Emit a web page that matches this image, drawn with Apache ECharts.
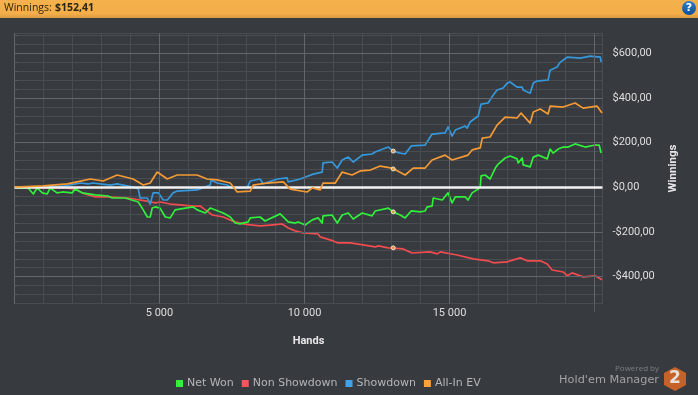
<!DOCTYPE html>
<html>
<head>
<meta charset="utf-8">
<style>html,body{margin:0;padding:0;background:#373a3e}#c{width:698px;height:395px}</style>
<script src="https://cdn.jsdelivr.net/npm/echarts@6/dist/echarts.min.js"></script>
</head>
<body>
<div id="c"></div>
<script>
const seriesNames = ['Net Won', 'Non Showdown', 'Showdown', 'All-In EV'];
const netWon = [[20,-3],[370,-3],[470,-3],[650,-30],[780,-3],[960,-25],[1130,-30],[1230,-3],[1470,-25],[1650,-21],[1990,-25],[2090,-8],[2330,-25],[2780,-34],[3230,-39],[3370,-48],[3820,-48],[4270,-66],[4440,-101],[4580,-133],[4680,-133],[4750,-93],[4850,-88],[5020,-93],[5200,-133],[5370,-137],[5540,-101],[6160,-88],[6300,-101],[6580,-115],[6750,-93],[7200,-115],[7440,-133],[7610,-160],[7780,-164],[8060,-155],[8130,-137],[8470,-133],[8640,-151],[9160,-119],[9440,-155],[9680,-160],[9780,-155],[9950,-164],[10020,-169],[10270,-146],[10470,-137],[10610,-160],[10640,-128],[10950,-124],[11130,-160],[11300,-124],[11510,-115],[11680,-142],[11990,-115],[12330,-128],[12440,-106],[12890,-93],[13060,-110],[13300,-124],[13470,-137],[13680,-106],[13990,-110],[14160,-106],[14230,-88],[14400,-84],[14440,-48],[14750,-57],[14950,-25],[15090,-70],[15200,-43],[15540,-43],[15640,-57],[15780,-25],[15990,-8],[16060,1],[16090,51],[16230,55],[16400,37],[16580,86],[16680,104],[16920,131],[17090,140],[17330,127],[17370,109],[17510,131],[17540,100],[17780,91],[17890,135],[18060,144],[18370,127],[18470,171],[18570,153],[18750,171],[18920,180],[19090,180],[19330,194],[19680,180],[20020,189],[20160,189],[20230,153]];
const nonShowdown = [[20,1],[1160,-3],[1750,-3],[2090,-8],[2330,-25],[2780,-43],[3230,-43],[3920,-48],[4510,-61],[4850,-70],[5020,-66],[5370,-75],[5710,-79],[6160,-84],[6400,-84],[6580,-101],[6820,-124],[7200,-133],[7510,-151],[7890,-164],[8200,-169],[8470,-173],[8820,-169],[9230,-164],[9440,-182],[9680,-195],[9950,-204],[10470,-209],[10540,-222],[10990,-240],[11160,-249],[11580,-249],[12020,-258],[12440,-267],[12540,-262],[12890,-271],[13400,-276],[13710,-294],[14330,-289],[14580,-298],[14680,-289],[15260,-303],[15820,-320],[16330,-329],[16510,-338],[16990,-334],[17090,-329],[17440,-316],[17680,-329],[18130,-329],[18370,-343],[18540,-370],[18920,-379],[19060,-396],[19230,-383],[19610,-401],[20020,-396],[20260,-414]];
const showdown = [[20,1],[1160,1],[1750,6],[2270,19],[2540,15],[2710,19],[3300,10],[3540,15],[4090,1],[4270,-8],[4330,-48],[4580,-48],[4680,-75],[4780,-25],[4960,-25],[5130,-57],[5270,-57],[5470,-25],[5610,-17],[6300,-12],[6750,10],[6780,33],[6990,19],[7330,10],[7510,-3],[8020,-3],[8130,28],[8470,37],[8580,15],[9060,37],[9400,42],[9440,24],[9850,37],[10300,59],[10610,68],[10640,109],[10950,113],[11130,86],[11300,122],[11510,135],[11680,113],[11990,144],[12330,149],[12440,158],[12890,180],[13060,162],[13300,153],[13470,149],[13680,185],[14160,189],[14400,238],[14850,243],[14950,270],[15090,229],[15200,256],[15540,274],[15610,265],[15710,292],[15990,319],[16090,372],[16330,377],[16510,413],[16640,435],[16850,444],[16990,466],[17090,471],[17330,448],[17510,448],[17540,435],[17780,421],[17890,466],[18020,475],[18400,480],[18470,524],[18710,538],[18820,560],[19060,582],[19510,578],[19850,587],[20200,582],[20230,560]];
const allInEV = [[20,1],[990,6],[1820,15],[2160,24],[2610,37],[3060,28],[3540,55],[4090,37],[4440,10],[4680,19],[4920,68],[5270,37],[5610,55],[6300,55],[6640,37],[6990,33],[7440,19],[7680,-21],[8130,-17],[8230,10],[8710,19],[9270,24],[9510,-8],[10090,-21],[10270,-3],[10540,-12],[10640,19],[11060,19],[11300,68],[11640,55],[11920,73],[12270,77],[12610,95],[13020,86],[13470,55],[13750,86],[14160,86],[14400,122],[14850,144],[15090,122],[15640,144],[15780,167],[16060,176],[16130,220],[16400,225],[16640,278],[16920,314],[17330,310],[17470,332],[17780,287],[17890,337],[18130,350],[18400,328],[18470,363],[18920,359],[19330,377],[19610,354],[20090,363],[20260,332]];
const markedHand = 13060;
const markedValues = [-110, -271, 162, 82];
const majorX = [5000, 10000, 15000, 20000];
const majorY = [-400, -200, 200, 400, 600];
const colors = ['#2ff03a', '#f04b4e', '#3598dc', '#f39a35'];
const legendColors = ['#33f03c', '#f5545a', '#3fa2ea', '#ffa23c'];
const bg = '#373a3e';

const chart = echarts.init(document.getElementById('c'), null, {renderer: 'canvas'});
const font = 'Roboto';
function line(name, data, i, z) {
  return {name, type: 'line', data, symbol: 'none', smooth: false, z, color: legendColors[i],
    lineStyle: {color: colors[i], width: 1.7, join: 'round'}, silent: true, animation: false};
}
chart.setOption({
  backgroundColor: bg,
  animation: false,
  grid: {left: 14.5, top: 33.5, width: 588, height: 270, show: true, borderColor: '#63666a', borderWidth: 1, backgroundColor: 'transparent'},
  legend: {
    data: seriesNames, left: 171, top: 373, itemWidth: 7, itemHeight: 7, itemGap: 8, icon: 'rect',
    textStyle: {color: '#b4b6b8', fontFamily: 'DejaVu Sans', fontSize: 11, padding: [0, 0, 0, -1]}, selectedMode: false
  },
  xAxis: {
    type: 'value', min: 0, max: 20276, interval: 1000,
    name: 'Hands', nameLocation: 'middle', nameGap: 32,
    nameTextStyle: {color: '#e8e8e8', fontFamily: font, fontWeight: 'bold', fontSize: 11},
    axisLine: {show: true, lineStyle: {color: '#63666a'}},
    axisTick: {show: true, length: 4, lineStyle: {color: '#55585c'}},
    splitLine: {show: true, lineStyle: {color: '#494c50', width: 1}},
    axisLabel: {color: '#dedede', fontFamily: font, fontSize: 11, margin: 4, showMaxLabel: false, interval: 0, hideOverlap: false,
      formatter: v => (v % 5000 === 0 && v > 0 && v < 20000) ? String(v / 1000) + ' 000' : ''}
  },
  yAxis: {
    type: 'value', position: 'right', min: -520, max: 688, interval: 40,
    name: 'Winnings', nameLocation: 'middle', nameRotate: 90, nameGap: 65,
    nameTextStyle: {color: '#e8e8e8', fontFamily: font, fontWeight: 'bold', fontSize: 11.5},
    axisLine: {show: true, lineStyle: {color: '#63666a'}},
    axisTick: {show: true, length: 4, lineStyle: {color: '#55585c'}},
    splitLine: {show: true, lineStyle: {color: '#494c50', width: 1}},
    axisLabel: {color: '#dedede', fontFamily: font, fontSize: 11, margin: 10, showMinLabel: false, showMaxLabel: false, interval: 0, hideOverlap: false,
      formatter: v => v % 200 === 0 ? (v < 0 ? '-$' : '$') + Math.abs(v) + ',00' : ''}
  },
  series: [
    {name: 'majors', type: 'line', data: [], z: 1, silent: true,
      markLine: {silent: true, symbol: 'none', animation: false, label: {show: false},
        lineStyle: {color: '#63666a', width: 1, type: 'solid'},
        data: majorX.map(v => ({xAxis: v})).concat(majorY.map(v => ({yAxis: v})))}},
    line(seriesNames[1], nonShowdown, 1, 2),
    line(seriesNames[0], netWon, 0, 3),
    line(seriesNames[2], showdown, 2, 4),
    line(seriesNames[3], allInEV, 3, 5),
    {name: 'zero', type: 'line', data: [], z: 6, silent: true,
      markLine: {silent: true, symbol: 'none', animation: false, label: {show: false},
        lineStyle: {color: '#f2f2f2', width: 2.5, type: 'solid'}, data: [{yAxis: 0}]}},
    {name: 'marked', type: 'scatter', z: 7, silent: true, symbolSize: 4,
      data: markedValues.map(v => [markedHand, v]),
      itemStyle: {color: '#f3a040', borderColor: '#ffffff', borderWidth: 1}}
  ],
  graphic: [
    {type: 'rect', silent: true, shape: {x: 0, y: 0, width: 698, height: 18},
      style: {fill: new echarts.graphic.LinearGradient(0, 0, 0, 1, [
        {offset: 0, color: '#f5b14c'}, {offset: 0.75, color: '#f3ae4a'}, {offset: 1, color: '#d99a40'}])}},
    {type: 'text', silent: true, x: 4, y: 8.5, style: {text: 'Winnings:', fill: '#2b2412', font: '10.5px "Open Sans"', verticalAlign: 'middle'}},
    {type: 'text', silent: true, x: 55, y: 8.5, style: {text: '$152,41', fill: '#2b2412', font: 'bold 10.5px "Open Sans"', verticalAlign: 'middle'}},
    {type: 'circle', silent: true, shape: {cx: 689, cy: 8, r: 7},
      style: {fill: new echarts.graphic.LinearGradient(0, 0, 0, 1, [
        {offset: 0, color: '#2f80c8'}, {offset: 1, color: '#0f4f95'}])}},
    {type: 'text', silent: true, x: 689, y: 8, style: {text: '?', fill: '#ffffff', font: 'bold 11px "DejaVu Sans"', align: 'center', verticalAlign: 'middle'}},
    {type: 'line', silent: true, shape: {x1: 594.5, y1: 303, x2: 594.5, y2: 312}, style: {stroke: '#55585c', lineWidth: 1}},
    {type: 'text', silent: true, x: 659, y: 369, style: {text: 'Powered by', fill: '#7d8083', font: '8px "Open Sans"', align: 'right', verticalAlign: 'middle'}},
    {type: 'text', silent: true, x: 659, y: 380, style: {text: "Hold'em Manager", fill: '#a0a2a4', font: '11.3px "DejaVu Sans"', align: 'right', verticalAlign: 'middle'}},
    {type: 'polygon', silent: true, shape: {points: [[675, 367], [686, 373], [686, 385], [675, 391], [664, 385], [664, 373]]}, style: {fill: '#c4622a'}},
    {type: 'text', silent: true, x: 675, y: 379, style: {text: '2', fill: '#e8e0d8', font: 'bold 17px "DejaVu Sans"', align: 'center', verticalAlign: 'middle'}}
  ]
});
</script>
</body>
</html>
